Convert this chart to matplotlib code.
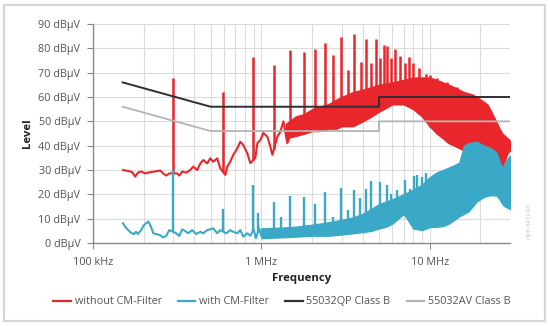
import numpy as np
import matplotlib
matplotlib.use("Agg")
import matplotlib.pyplot as plt
from matplotlib.lines import Line2D
from matplotlib.patches import Rectangle

plt.rcParams['font.family'] = ['Open Sans', 'DejaVu Sans']

# ---------------- data (frequency in MHz, level in dBuV) ----------------
red_line_f = [0.151, 0.162, 0.171, 0.178, 0.185, 0.193, 0.204, 0.218, 0.234, 0.251, 0.261, 0.272,
              0.284, 0.316, 0.325, 0.339, 0.358, 0.378, 0.394, 0.416, 0.434, 0.452, 0.477, 0.497,
              0.518, 0.547, 0.570, 0.611, 0.628, 0.654, 0.681, 0.720, 0.750, 0.781, 0.825, 0.860,
              0.921, 0.947, 0.986, 1.028, 1.086, 1.131, 1.163, 1.245, 1.297, 1.352, 1.428, 1.549]
red_line_db = [30.0, 29.6, 29.1, 27.3, 28.9, 29.4, 28.6, 29.1, 29.4, 29.8, 28.6, 27.7,
               28.6, 28.6, 27.7, 29.4, 28.9, 30.0, 31.4, 30.0, 32.7, 34.1, 32.7, 34.8,
               33.4, 34.8, 30.7, 28.0, 31.4, 33.4, 36.2, 38.9, 41.6, 40.3, 36.9, 32.8,
               35.0, 41.0, 42.3, 45.2, 43.7, 39.6, 36.2, 43.7, 45.7, 50.0, 41.0, 48.0]

red_band_f = [1.4, 1.6, 1.8, 2.0, 2.2, 2.5, 2.8, 3.0, 3.5, 4.0, 4.5, 5.0, 6.0, 7.0, 8.0, 9.0,
              10, 11, 12, 13, 14, 16, 18, 20, 22, 24, 26, 27, 28, 29, 30]
red_band_lo = [43, 44, 45, 46, 46, 47, 47, 48, 48, 50, 52, 54, 57, 57, 55, 52,
               48, 45, 43, 41, 40, 38, 36, 35, 34, 32, 31, 31, 34, 37, 38]
red_band_hi = [49, 52, 53, 55, 56, 57, 59, 60, 62, 63, 64, 65, 66, 67, 68, 68,
               68, 67, 66, 65, 64, 62, 61, 59, 57, 52, 47, 45, 44, 43, 42]

red_peak_f = [0.297, 0.592, 0.893, 1.19, 1.49, 1.79, 2.08, 2.38, 2.68, 2.98, 3.28, 3.57,
              3.9, 4.2, 4.5, 4.8, 5.1, 5.35, 5.6, 5.9, 6.25, 6.7, 7.1, 7.5, 8.0, 8.7,
              9.5, 10.1, 11.1, 12.7, 14.6]
red_peak_db = [68, 62, 76.6, 73, 79.3, 78.6, 79.6, 82.3, 77.3, 84.5, 71, 85.8,
               74.5, 83.8, 74, 84, 76, 81.4, 81, 76, 79.7, 76.9, 74, 76.6, 74, 71.9,
               69.5, 69, 68, 66.3, 64]

blue_line_f = [0.151, 0.155, 0.162, 0.168, 0.175, 0.180, 0.185, 0.193, 0.201, 0.213, 0.221, 0.228,
               0.237, 0.251, 0.261, 0.272, 0.284, 0.312, 0.325, 0.339, 0.353, 0.368, 0.388, 0.410,
               0.434, 0.452, 0.477, 0.518, 0.547, 0.570, 0.619, 0.654, 0.681, 0.720, 0.750, 0.781,
               0.825, 0.860, 0.90, 0.93, 0.97, 1.0]
blue_line_db = [8.1, 6.7, 5.3, 4.2, 3.7, 4.6, 3.7, 5.3, 7.4, 8.8, 6.7, 4.0,
                3.7, 3.2, 2.3, 2.9, 5.3, 4.0, 2.9, 5.6, 4.9, 4.0, 5.3, 3.7,
                4.6, 4.0, 5.3, 6.0, 4.0, 5.3, 4.0, 5.3, 4.6, 4.0, 5.3, 2.6,
                4.0, 3.0, 5.5, 2.0, 6.0, 3.0]

blue_band_f = [1.0, 1.5, 2.0, 2.5, 3.0, 3.5, 4.0, 4.5, 5.0, 5.5, 6.0, 6.5, 7.0, 7.5, 8.0,
               9.0, 10, 11, 12, 13, 14, 15, 16, 17, 19, 21, 23, 25, 26, 27, 28, 30]
blue_band_lo = [2.0, 2.5, 3.0, 3.0, 3.5, 4.0, 4.5, 5.0, 6.0, 6.7, 8.0, 10, 12, 9, 6,
                5.3, 6.5, 6.7, 7, 8, 9.5, 11, 12, 13, 17, 19, 19.7, 19.5, 18, 16, 15, 14]
blue_band_hi = [6, 6.5, 7.5, 8.5, 9.5, 10.5, 12, 14, 16, 17, 18, 19, 20, 21, 22,
                24, 27, 29, 30, 31, 32, 33, 40, 41, 41.6, 40, 39, 37, 33.4, 30.7, 33, 36]

blue_peak_f = [0.297, 0.592, 0.893, 0.95, 1.19, 1.3, 1.49, 1.79, 2.08, 2.38, 2.68, 2.98,
               3.28, 3.57, 3.86, 4.16, 4.5, 5.06, 5.55, 5.9, 6.36, 6.7, 7.13, 7.6, 8.06,
               8.45, 9.05, 9.47]
blue_peak_db = [30, 14, 23.8, 12.3, 17, 10.7, 19.5, 18.8, 16, 20.8, 10.7, 22.7,
                13.6, 21.8, 18.5, 22, 25.5, 25.2, 23.8, 20, 21.8, 19, 25.9, 22, 27.7,
                28, 27.2, 28.9]

qp_f = [0.15, 0.5, 5, 5, 30]
qp_db = [66, 56, 56, 60, 60]
av_f = [0.15, 0.5, 5, 5, 30]
av_db = [56, 46, 46, 50, 50]

x_ticks = [0.1, 1, 10]
x_ticklabels = ['100 kHz', '1 MHz', '10 MHz']
y_ticks = [0, 10, 20, 30, 40, 50, 60, 70, 80, 90]
y_ticklabels = [f'{v} dBµV' for v in y_ticks]

series_labels = ['without CM-Filter', 'with CM-Filter', '55032QP Class B', '55032AV Class B']
RED = '#e8262b'
BLUE = '#3aa9c7'
QP = '#2e2e33'
AV = '#b4b4b4'

# ---------------- figure ----------------
W, H = 550, 326
fig = plt.figure(figsize=(W / 100, H / 100), dpi=100)
fig.patch.set_facecolor('white')
fig.patches.append(Rectangle((4 / W, 5 / H), 541 / W, 316 / H, transform=fig.transFigure,
                             fill=False, ec='#d6d6d6', lw=1.6))

ax = fig.add_axes([93 / W, 83 / H, 417 / W, 219 / H])
ax.set_xscale('log')
ax.set_xlim(0.1, 30)
ax.set_ylim(0, 90)


def spike_base(pf, line_f, line_db, band_f, band_lo, cut):
    lf = [f for f in line_f if f < cut]
    ld = [d for f, d in zip(line_f, line_db) if f < cut]
    allf = np.log10(np.array(lf + list(band_f)))
    alld = np.array(ld + list(band_lo))
    return np.interp(np.log10(pf), allf, alld)


# red trace
ax.plot(red_line_f, red_line_db, color=RED, lw=1.5, zorder=2, solid_joinstyle='round')
ax.fill_between(red_band_f, red_band_lo, red_band_hi, color=RED, lw=1.0, ec=RED, zorder=2)
rb = spike_base(red_peak_f, red_line_f, red_line_db, red_band_f, red_band_lo, 1.4)
ax.vlines(red_peak_f, rb, red_peak_db, color=RED, lw=1.8, zorder=2)

# blue trace
ax.plot(blue_line_f, blue_line_db, color=BLUE, lw=1.5, zorder=3, solid_joinstyle='round')
ax.fill_between(blue_band_f, blue_band_lo, blue_band_hi, color=BLUE, lw=1.0, ec=BLUE, zorder=3)
bb = spike_base(blue_peak_f, blue_line_f, blue_line_db, blue_band_f, blue_band_lo, 1.0)
ax.vlines(blue_peak_f, bb, blue_peak_db, color=BLUE, lw=1.7, zorder=3)

# limit lines
ax.plot(av_f, av_db, color=AV, lw=1.3, zorder=4)
ax.plot(qp_f, qp_db, color=QP, lw=1.4, zorder=5)

# grid / ticks
ax.set_xticks(x_ticks)
ax.set_xticklabels(x_ticklabels)
minor = [m * d for d in (0.1, 1, 10) for m in range(2, 10) if m * d <= 30]
ax.set_xticks(minor, minor=True)
ax.set_yticks(y_ticks)
ax.set_yticklabels(y_ticklabels)
ax.grid(which='both', axis='x', color='#dcdcdc', lw=0.8, zorder=0)
ax.grid(which='major', axis='y', color='#dcdcdc', lw=0.8, zorder=0)
ax.set_axisbelow(True)
ax.tick_params(axis='x', which='minor', length=0)
ax.tick_params(axis='both', which='major', length=4, width=0.8, color='#888888',
               labelsize=7.8, labelcolor='#555555')
ax.tick_params(axis='x', which='major', pad=6)
ax.tick_params(axis='y', which='major', pad=5)
for s in ('top', 'right'):
    ax.spines[s].set_visible(False)
for s in ('left', 'bottom'):
    ax.spines[s].set_color('#8a8a8a')
    ax.spines[s].set_linewidth(1.0)

ax.set_xlabel('Frequency', fontsize=8.2, fontweight='bold', color='#222222', labelpad=4)
ax.set_ylabel('Level', fontsize=8.2, fontweight='bold', color='#222222', labelpad=4)

handles = [Line2D([], [], color=c, lw=1.6) for c in (RED, BLUE, QP, AV)]
fig.legend(handles, series_labels, loc='center', bbox_to_anchor=(282 / W, 1 - 302 / H),
           ncol=4, frameon=False, fontsize=7.8, handlelength=1.6, handletextpad=0.35,
           columnspacing=1.5, labelcolor='#555555')

fig.text(529 / W, 1 - 221 / H, 'HDE-0412-03', rotation=90, fontsize=4.2, color='#c0c0c0',
         ha='center', va='center')

fig.savefig('out.png', dpi=100, facecolor='white')
